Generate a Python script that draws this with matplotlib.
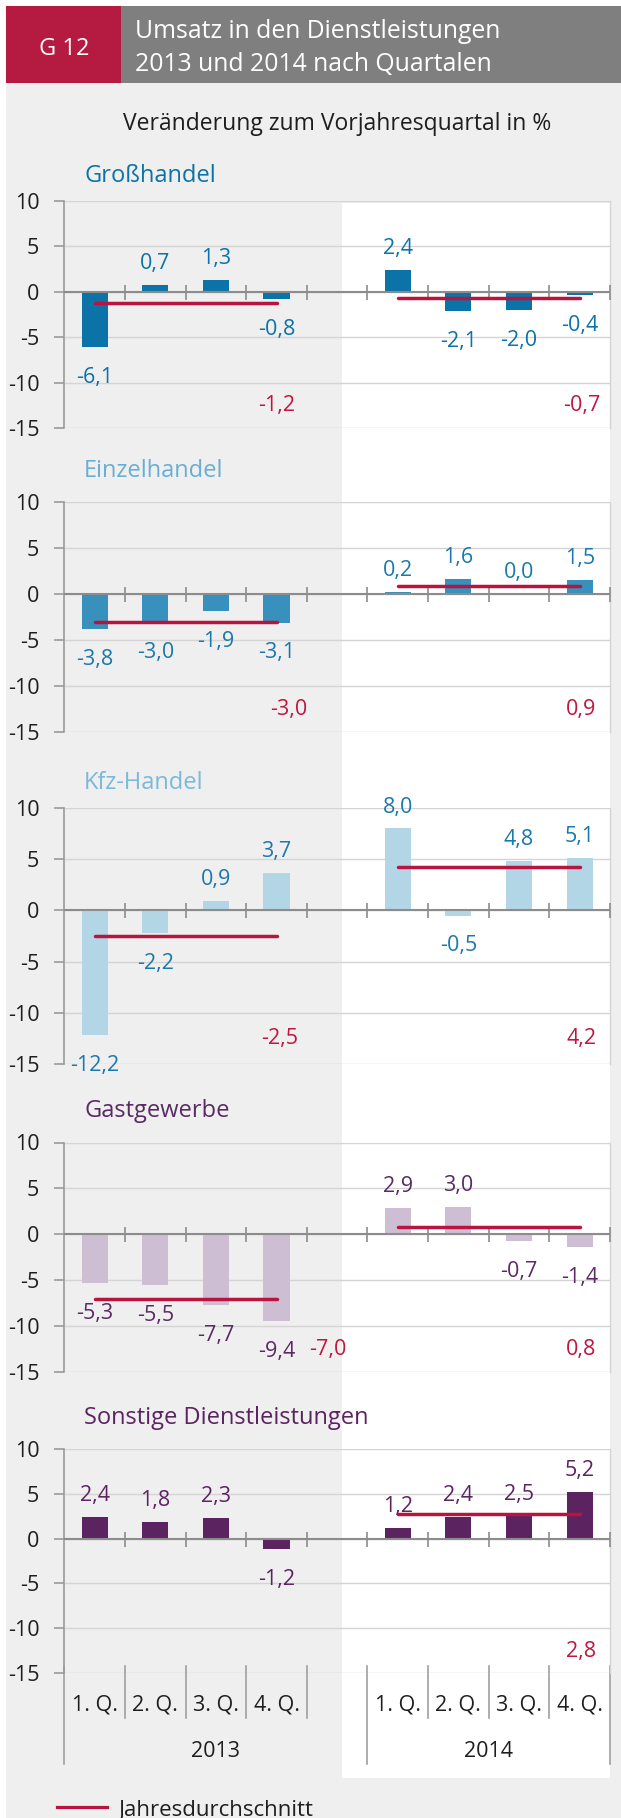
import matplotlib
matplotlib.use("Agg")
import matplotlib.pyplot as plt
import matplotlib.transforms as mtransforms
from matplotlib.patches import Rectangle
from matplotlib.lines import Line2D
import numpy as np

plt.rcParams["font.family"] = ["Open Sans", "DejaVu Sans"]
plt.rcParams["axes.unicode_minus"] = False

# --- data ------------------------------------------------------------------
quarters = ["1. Q.", "2. Q.", "3. Q.", "4. Q."]
years = ["2013", "2014"]
sectors = ["Großhandel", "Einzelhandel", "Kfz-Handel", "Gastgewerbe",
           "Sonstige Dienstleistungen"]

values_2013 = [
    [-6.1, 0.7, 1.3, -0.8],
    [-3.8, -3.0, -1.9, -3.1],
    [-12.2, -2.2, 0.9, 3.7],
    [-5.3, -5.5, -7.7, -9.4],
    [2.4, 1.8, 2.3, -1.2],
]
values_2014 = [
    [2.4, -2.1, -2.0, -0.4],
    [0.2, 1.6, 0.0, 1.5],
    [8.0, -0.5, 4.8, 5.1],
    [2.9, 3.0, -0.7, -1.4],
    [1.2, 2.4, 2.5, 5.2],
]
avg_2013 = [-1.2, -3.0, -2.5, -7.0, None]
avg_2014 = [-0.7, 0.9, 4.2, 0.8, 2.8]

# --- styling / layout --------------------------------------------------------
bar_colors = ["#0B73A8", "#3891BD", "#B3D6E6", "#CEBED4", "#5C2361"]
label_colors = ["#0B73A8", "#1A78AD", "#1A78AD", "#5A2A62", "#5C2361"]
title_colors = ["#0B73A8", "#6AAED3", "#7CB9D8", "#5A2A62", "#5C2361"]
AVG = "#B7153F"
AVG_TXT = "#C0163F"
BG = "#EEEFEE"
TXT = "#1E1E1E"
GRID = "#D4D4D4"
AXIS = "#8C8C8C"

W, H, DPI = 621, 1818, 100
panel_px = [(201, 428), (502, 732), (808, 1064), (1142.5, 1372), (1449, 1673)]
title_base_px = [181.7, 476.7, 789.3, 1117.3, 1424]
avg_lbl_x = [(3.0, 8.03), (3.2, 8.03), (3.05, 8.03), (3.85, 8.03), (None, 8.03)]
AVG_LBL_Y = -12.3
AX_L, AX_R = 64.3, 610


def fx(px):
    return px / W


def fy(px):
    return 1 - px / H


fig = plt.figure(figsize=(W / DPI, H / DPI), dpi=DPI)
fig.patch.set_facecolor("white")

# backgrounds
fig.patches.append(Rectangle((fx(6), 0), 1 - fx(6), fy(83), transform=fig.transFigure,
                             facecolor=BG, edgecolor="none", zorder=-3))
fig.patches.append(Rectangle((fx(342), fy(1778)), fx(610) - fx(342), fy(203) - fy(1778),
                             transform=fig.transFigure, facecolor="white",
                             edgecolor="none", zorder=-2))
fig.patches.append(Rectangle((fx(6), fy(83)), fx(121) - fx(6), fy(6) - fy(83),
                             transform=fig.transFigure, facecolor="#B51A41",
                             edgecolor="none", zorder=-1))
fig.patches.append(Rectangle((fx(121), fy(83)), 1 - fx(121), fy(6) - fy(83),
                             transform=fig.transFigure, facecolor="#7F7F80",
                             edgecolor="none", zorder=-1))

fig.text(fx(64), fy(55), "G 12", color="white", fontsize=17, ha="center", va="baseline")
fig.text(fx(135), fy(38.5), "Umsatz in den Dienstleistungen", color="white",
         fontsize=17.8, ha="left", va="baseline")
fig.text(fx(135), fy(70.7), "2013 und 2014 nach Quartalen", color="white",
         fontsize=17.8, ha="left", va="baseline")
fig.text(fx(337), fy(130), "Veränderung zum Vorjahresquartal in %", color=TXT,
         fontsize=16.5, ha="center", va="baseline")

x2013 = np.arange(4)
x2014 = np.arange(5, 9)
bounds = np.arange(0.5, 9, 1)

axes = []
for i, name in enumerate(sectors):
    top, bot = panel_px[i]
    ax = fig.add_axes([fx(AX_L), fy(bot), fx(AX_R) - fx(AX_L), (bot - top) / H])
    ax.set_facecolor("none")
    ax.set_xlim(-0.5, 8.5)
    ax.set_ylim(-15, 10)
    ax.set_yticks([-15, -10, -5, 0, 5, 10])
    ax.set_yticklabels([str(t) for t in [-15, -10, -5, 0, 5, 10]])
    ax.set_xticks([])
    ax.tick_params(axis="y", length=7, width=1.2, color="#9A9A9A", pad=11,
                   labelsize=15.5, labelcolor=TXT)
    ax.grid(axis="y", color=GRID, lw=1.0)
    ax.set_axisbelow(True)
    for s in ("top", "bottom"):
        ax.spines[s].set_visible(False)
    ax.spines["left"].set_color("#9A9A9A")
    ax.spines["left"].set_linewidth(1.2)
    ax.spines["right"].set_color(GRID)
    ax.spines["right"].set_linewidth(1.0)

    xs = np.concatenate([x2013, x2014])
    vals = values_2013[i] + values_2014[i]
    ax.bar(xs, vals, width=0.43, color=bar_colors[i], zorder=2)
    ax.axhline(0, color=AXIS, lw=1.5, zorder=3)
    ax.plot(bounds, np.zeros_like(bounds), ls="none", marker="|", ms=10.8,
            mew=1.2, color=AXIS, zorder=3)

    for x, v in zip(xs, vals):
        lbl = f"{v:.1f}".replace(".", ",")
        off = 11.5 if v >= 0 else -25.9
        ax.annotate(lbl, (x, v), xytext=(0, off), textcoords="offset points",
                    ha="center", va="baseline", fontsize=15.5,
                    color=label_colors[i], zorder=5)

    for avg, xr, lx in ((avg_2013[i], x2013, avg_lbl_x[i][0]),
                        (avg_2014[i], x2014, avg_lbl_x[i][1])):
        if avg is None:
            continue
        ax.plot([xr[0], xr[-1]], [avg, avg], color=AVG, lw=2.5,
                solid_capstyle="round", zorder=4)
        ax.text(lx, AVG_LBL_Y, f"{avg:.1f}".replace(".", ","), color=AVG_TXT,
                fontsize=15.5, ha="center", va="center_baseline", zorder=5)

    fig.text(fx(84), fy(title_base_px[i]), name, color=title_colors[i],
             fontsize=17, ha="left", va="baseline")
    axes.append(ax)

# category axis below the last panel
ax = axes[-1]
top, bot = panel_px[-1]


def ya(px):
    return (bot - px) / (bot - top)


tr = mtransforms.blended_transform_factory(ax.transData, ax.transAxes)
short = [b for b in bounds if b not in (4.5, 8.5)]
for b in short:
    ax.add_line(Line2D([b, b], [ya(1666), ya(1718)], transform=tr, color="#A0A0A0",
                       lw=1.2, clip_on=False))
for b in (-0.5, 4.5, 8.5):
    ax.add_line(Line2D([b, b], [ya(1666), ya(1764)], transform=tr, color="#A0A0A0",
                       lw=1.2, clip_on=False))

for xr in (x2013, x2014):
    for x, q in zip(xr, quarters):
        ax.text(x, ya(1710.7), q, transform=tr, ha="center", va="baseline",
                fontsize=15.5, color=TXT)
ax.text(np.mean([-0.5, 4.5]), ya(1757.3), years[0], transform=tr, ha="center",
        va="baseline", fontsize=15.5, color=TXT)
ax.text(np.mean([4.5, 8.5]), ya(1757.3), years[1], transform=tr, ha="center",
        va="baseline", fontsize=15.5, color=TXT)

# legend
fig.add_artist(Line2D([fx(57), fx(107)], [fy(1806.7), fy(1806.7)],
                      transform=fig.transFigure, color=AVG, lw=2.3))
fig.text(fx(119), fy(1816), "Jahresdurchschnitt", color=TXT, fontsize=16,
         ha="left", va="baseline")

fig.savefig("out.png", dpi=DPI)
